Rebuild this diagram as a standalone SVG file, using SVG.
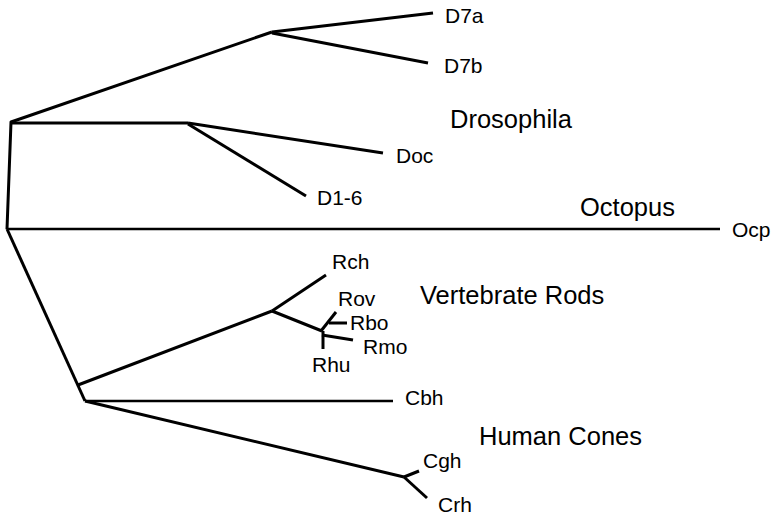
<svg xmlns="http://www.w3.org/2000/svg" width="777" height="517" viewBox="0 0 777 517">
  <style>
    .br { fill: none; stroke: #000; stroke-width: 3; stroke-linecap: butt; stroke-linejoin: round; }
    .thin { stroke-width: 2.5; }
    .leaf { font-family: "Liberation Sans", Arial, Helvetica, sans-serif; font-size: 21px; fill: #000; }
    .clade { font-family: "Liberation Sans", Arial, Helvetica, sans-serif; font-size: 25.5px; fill: #000; }
  </style>
  <rect width="777" height="517" fill="#fff"/>

  <!-- tree branches -->
  <g id="branches">
    <!-- root stem and Drosophila clade -->
    <polyline class="br" points="7,229 11,122 272,32"/>
    <line class="br" x1="272" y1="32" x2="433" y2="13"/>
    <line class="br" x1="272" y1="33" x2="428" y2="63"/>
    <line class="br" x1="11" y1="123" x2="188" y2="123"/>
    <line class="br" x1="188" y1="123" x2="383" y2="153"/>
    <line class="br" x1="188" y1="124" x2="306" y2="196"/>
    <!-- Octopus -->
    <line class="br thin" x1="7" y1="229" x2="720" y2="229"/>
    <!-- rods and cones -->
    <line class="br" x1="7" y1="229" x2="85" y2="401"/>
    <line class="br" x1="78" y1="385" x2="272" y2="311"/>
    <line class="br" x1="272" y1="311" x2="326" y2="275"/>
    <line class="br" x1="272" y1="311" x2="322" y2="331"/>
    <line class="br" x1="321" y1="331" x2="336" y2="312"/>
    <line class="br" x1="329" y1="323" x2="347" y2="323"/>
    <line class="br" x1="322" y1="335" x2="353" y2="340"/>
    <line class="br" x1="323" y1="331" x2="323" y2="349"/>
    <line class="br thin" x1="85" y1="401" x2="393" y2="401"/>
    <line class="br" x1="85" y1="401" x2="404" y2="477"/>
    <line class="br" x1="404" y1="477" x2="419" y2="471"/>
    <line class="br" x1="404" y1="477" x2="427" y2="498"/>
  </g>

  <!-- leaf labels -->
  <g id="D7a"><text class="leaf" x="445" y="23">D7a</text></g>
  <g id="D7b"><text class="leaf" x="444" y="73">D7b</text></g>
  <g id="Doc"><text class="leaf" x="396" y="163">Doc</text></g>
  <g id="D1-6"><text class="leaf" x="317" y="205">D1-6</text></g>
  <g id="Ocp"><text class="leaf" x="732" y="237">Ocp</text></g>
  <g id="Rch"><text class="leaf" x="332" y="269">Rch</text></g>
  <g id="Rov"><text class="leaf" x="338" y="306">Rov</text></g>
  <g id="Rbo"><text class="leaf" x="350" y="330">Rbo</text></g>
  <g id="Rmo"><text class="leaf" x="363" y="354">Rmo</text></g>
  <g id="Rhu"><text class="leaf" x="312" y="372">Rhu</text></g>
  <g id="Cbh"><text class="leaf" x="405" y="405">Cbh</text></g>
  <g id="Cgh"><text class="leaf" x="423" y="468">Cgh</text></g>
  <g id="Crh"><text class="leaf" x="438" y="512">Crh</text></g>

  <!-- clade labels -->
  <g id="Drosophila"><text class="clade" x="450" y="128">Drosophila</text></g>
  <g id="Octopus"><text class="clade" x="580" y="216">Octopus</text></g>
  <g id="VertebrateRods"><text class="clade" x="420" y="304">Vertebrate Rods</text></g>
  <g id="HumanCones"><text class="clade" x="479" y="445">Human Cones</text></g>
</svg>
